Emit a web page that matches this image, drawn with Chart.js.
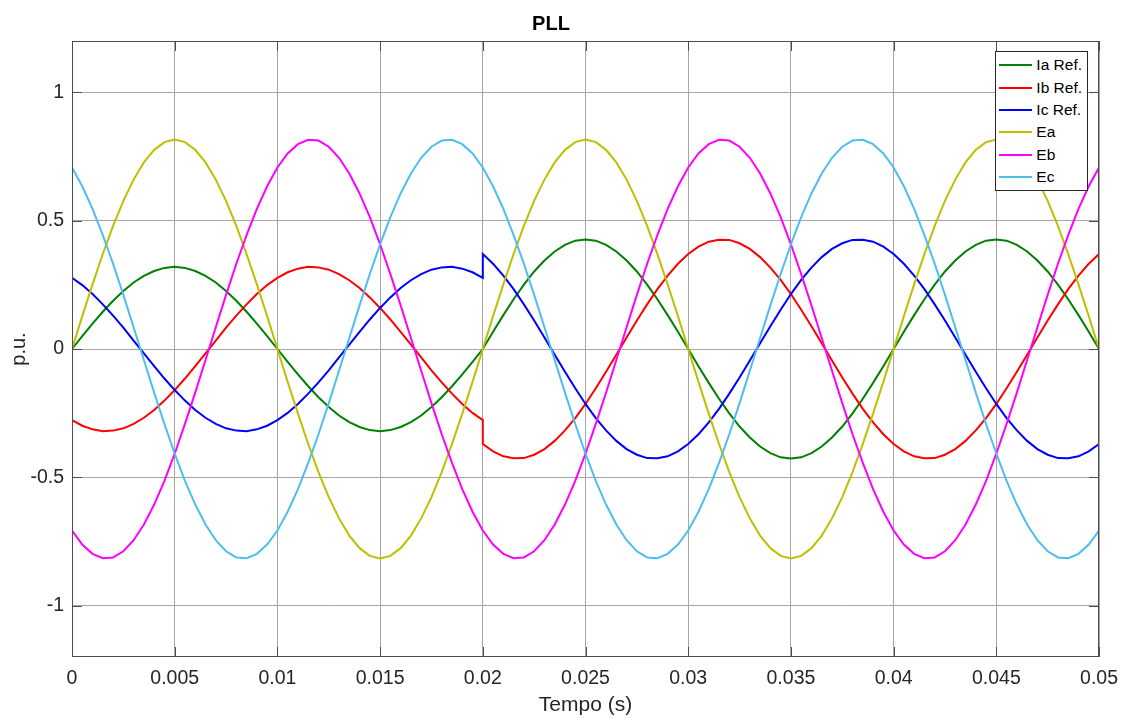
<!DOCTYPE html>
<html>
<head>
<meta charset="utf-8">
<title>PLL</title>
<script src="https://cdn.jsdelivr.net/npm/chart.js@4.4.1/dist/chart.umd.min.js"></script>
<style>
  html, body { margin: 0; padding: 0; background: #fff; }
  #wrap { position: relative; width: 1128px; height: 718px; }
  #legend {
    position: absolute;
    background: #fff;
    border: 1px solid #262626;
    padding: 2px 5px 2px 3px;
    font-family: 'Liberation Sans', Arial, Helvetica, sans-serif;
    font-size: 15.5px;
    color: #000;
    white-space: nowrap;
  }
  #legend .row { display: flex; align-items: center; height: 22.4px; }
  #legend .swatch { width: 33px; height: 0; border-top: 2.5px solid; margin-right: 4px; }
</style>
</head>
<body>
<div id="wrap">
  <canvas id="pll" width="1128" height="718"></canvas>
  <div id="legend"></div>
</div>
<script>
// sample grid: 0 .. 0.05 s, every 0.5 ms
const tempo = Array.from({ length: 101 }, (_, i) => +(i * 0.0005).toFixed(4));
const xTicks = [0, 0.005, 0.01, 0.015, 0.02, 0.025, 0.03, 0.035, 0.04, 0.045, 0.05];
const yTicks = [-1, -0.5, 0, 0.5, 1];

const seriesNames = ['Ia Ref.', 'Ib Ref.', 'Ic Ref.', 'Ea', 'Eb', 'Ec'];
const seriesColors = ['#008000', '#ff0000', '#0000ff', '#bfbf00', '#ff00ff', '#4dbeee'];

// grid voltages (p.u.)
const ea = [
  0, 0.128, 0.252, 0.370, 0.480, 0.577, 0.660, 0.727, 0.776, 0.806, 0.816, 0.806, 0.776, 0.727, 0.660, 0.577, 0.480, 0.370, 0.252, 0.128,
  0, -0.128, -0.252, -0.370, -0.480, -0.577, -0.660, -0.727, -0.776, -0.806, -0.816, -0.806, -0.776, -0.727, -0.660, -0.577, -0.480, -0.370, -0.252, -0.128,
  0, 0.128, 0.252, 0.370, 0.480, 0.577, 0.660, 0.727, 0.776, 0.806, 0.816, 0.806, 0.776, 0.727, 0.660, 0.577, 0.480, 0.370, 0.252, 0.128,
  0, -0.128, -0.252, -0.370, -0.480, -0.577, -0.660, -0.727, -0.776, -0.806, -0.816, -0.806, -0.776, -0.727, -0.660, -0.577, -0.480, -0.370, -0.252, -0.128,
  0, 0.128, 0.252, 0.370, 0.480, 0.577, 0.660, 0.727, 0.776, 0.806, 0.816, 0.806, 0.776, 0.727, 0.660, 0.577, 0.480, 0.370, 0.252, 0.128,
  0
];
const eb = [
  -0.707, -0.762, -0.798, -0.815, -0.812, -0.788, -0.745, -0.684, -0.606, -0.514, -0.408, -0.292, -0.170, -0.043, 0.085, 0.211, 0.332, 0.444, 0.546, 0.634,
  0.707, 0.762, 0.798, 0.815, 0.812, 0.788, 0.745, 0.684, 0.606, 0.514, 0.408, 0.292, 0.170, 0.043, -0.085, -0.211, -0.332, -0.444, -0.546, -0.634,
  -0.707, -0.762, -0.798, -0.815, -0.812, -0.788, -0.745, -0.684, -0.606, -0.514, -0.408, -0.292, -0.170, -0.043, 0.085, 0.211, 0.332, 0.444, 0.546, 0.634,
  0.707, 0.762, 0.798, 0.815, 0.812, 0.788, 0.745, 0.684, 0.606, 0.514, 0.408, 0.292, 0.170, 0.043, -0.085, -0.211, -0.332, -0.444, -0.546, -0.634,
  -0.707, -0.762, -0.798, -0.815, -0.812, -0.788, -0.745, -0.684, -0.606, -0.514, -0.408, -0.292, -0.170, -0.043, 0.085, 0.211, 0.332, 0.444, 0.546, 0.634,
  0.707
];
const ec = [
  0.707, 0.634, 0.546, 0.444, 0.332, 0.211, 0.085, -0.043, -0.170, -0.292, -0.408, -0.514, -0.606, -0.684, -0.745, -0.788, -0.812, -0.815, -0.798, -0.762,
  -0.707, -0.634, -0.546, -0.444, -0.332, -0.211, -0.085, 0.043, 0.170, 0.292, 0.408, 0.514, 0.606, 0.684, 0.745, 0.788, 0.812, 0.815, 0.798, 0.762,
  0.707, 0.634, 0.546, 0.444, 0.332, 0.211, 0.085, -0.043, -0.170, -0.292, -0.408, -0.514, -0.606, -0.684, -0.745, -0.788, -0.812, -0.815, -0.798, -0.762,
  -0.707, -0.634, -0.546, -0.444, -0.332, -0.211, -0.085, 0.043, 0.170, 0.292, 0.408, 0.514, 0.606, 0.684, 0.745, 0.788, 0.812, 0.815, 0.798, 0.762,
  0.707, 0.634, 0.546, 0.444, 0.332, 0.211, 0.085, -0.043, -0.170, -0.292, -0.408, -0.514, -0.606, -0.684, -0.745, -0.788, -0.812, -0.815, -0.798, -0.762,
  -0.707
];

// current references: 0 .. 0.02 s (i = 0..40), then 0.02 .. 0.05 s (i = 40..100) after the step
const iaPre = [
  0, 0.050, 0.099, 0.145, 0.188, 0.226, 0.259, 0.285, 0.304, 0.316, 0.320, 0.316, 0.304, 0.285, 0.259, 0.226, 0.188, 0.145, 0.099, 0.050,
  0, -0.050, -0.099, -0.145, -0.188, -0.226, -0.259, -0.285, -0.304, -0.316, -0.320, -0.316, -0.304, -0.285, -0.259, -0.226, -0.188, -0.145, -0.099, -0.050,
  0
];
const iaPost = [
  0, 0.067, 0.132, 0.194, 0.251, 0.302, 0.345, 0.380, 0.406, 0.422, 0.427, 0.422, 0.406, 0.380, 0.345, 0.302, 0.251, 0.194, 0.132, 0.067,
  0, -0.067, -0.132, -0.194, -0.251, -0.302, -0.345, -0.380, -0.406, -0.422, -0.427, -0.422, -0.406, -0.380, -0.345, -0.302, -0.251, -0.194, -0.132, -0.067,
  0, 0.067, 0.132, 0.194, 0.251, 0.302, 0.345, 0.380, 0.406, 0.422, 0.427, 0.422, 0.406, 0.380, 0.345, 0.302, 0.251, 0.194, 0.132, 0.067,
  0
];
const ibPre = [
  -0.277, -0.299, -0.313, -0.320, -0.318, -0.309, -0.292, -0.268, -0.238, -0.201, -0.160, -0.115, -0.067, -0.017, 0.033, 0.083, 0.130, 0.174, 0.214, 0.249,
  0.277, 0.299, 0.313, 0.320, 0.318, 0.309, 0.292, 0.268, 0.238, 0.201, 0.160, 0.115, 0.067, 0.017, -0.033, -0.083, -0.130, -0.174, -0.214, -0.249,
  -0.277
];
const ibPost = [
  -0.370, -0.399, -0.418, -0.426, -0.425, -0.412, -0.390, -0.358, -0.317, -0.269, -0.214, -0.153, -0.089, -0.022, 0.045, 0.111, 0.174, 0.233, 0.286, 0.332,
  0.370, 0.399, 0.418, 0.426, 0.425, 0.412, 0.390, 0.358, 0.317, 0.269, 0.214, 0.153, 0.089, 0.022, -0.045, -0.111, -0.174, -0.233, -0.286, -0.332,
  -0.370, -0.399, -0.418, -0.426, -0.425, -0.412, -0.390, -0.358, -0.317, -0.269, -0.214, -0.153, -0.089, -0.022, 0.045, 0.111, 0.174, 0.233, 0.286, 0.332,
  0.370
];
const icPre = [
  0.277, 0.249, 0.214, 0.174, 0.130, 0.083, 0.033, -0.017, -0.067, -0.115, -0.160, -0.201, -0.238, -0.268, -0.292, -0.309, -0.318, -0.320, -0.313, -0.299,
  -0.277, -0.249, -0.214, -0.174, -0.130, -0.083, -0.033, 0.017, 0.067, 0.115, 0.160, 0.201, 0.238, 0.268, 0.292, 0.309, 0.318, 0.320, 0.313, 0.299,
  0.277
];
const icPost = [
  0.370, 0.332, 0.286, 0.233, 0.174, 0.111, 0.045, -0.022, -0.089, -0.153, -0.214, -0.269, -0.317, -0.358, -0.390, -0.412, -0.425, -0.426, -0.418, -0.399,
  -0.370, -0.332, -0.286, -0.233, -0.174, -0.111, -0.045, 0.022, 0.089, 0.153, 0.214, 0.269, 0.317, 0.358, 0.390, 0.412, 0.425, 0.426, 0.418, 0.399,
  0.370, 0.332, 0.286, 0.233, 0.174, 0.111, 0.045, -0.022, -0.089, -0.153, -0.214, -0.269, -0.317, -0.358, -0.390, -0.412, -0.425, -0.426, -0.418, -0.399,
  -0.370
];

const STEP_IDX = 40; // sample at t = 0.02 s

function pts(vals, offset = 0) {
  return vals.map((v, i) => ({ x: tempo[i + offset], y: v }));
}
// pre and post segments share the t = 0.02 sample, so the jump is drawn vertically
function stepped(pre, post) {
  return pts(pre).concat(pts(post, STEP_IDX));
}

const seriesData = [
  stepped(iaPre, iaPost),
  stepped(ibPre, ibPost),
  stepped(icPre, icPost),
  pts(ea),
  pts(eb),
  pts(ec)
];

const FONT = "'Liberation Sans', Arial, Helvetica, sans-serif";
const INK = '#262626';

// axes box and inward tick marks
const frameBox = {
  id: 'frameBox',
  afterDatasetsDraw(chart) {
    const { ctx, chartArea: a, scales: { x, y } } = chart;
    const L = 10;
    ctx.save();
    ctx.strokeStyle = '#4d4d4d';
    ctx.lineWidth = 1;
    ctx.beginPath();
    xTicks.forEach(v => {
      const px = Math.round(x.getPixelForValue(v)) + 0.5;
      ctx.moveTo(px, a.bottom); ctx.lineTo(px, a.bottom - L);
      ctx.moveTo(px, a.top); ctx.lineTo(px, a.top + L);
    });
    yTicks.forEach(v => {
      const py = Math.round(y.getPixelForValue(v)) + 0.5;
      ctx.moveTo(a.left, py); ctx.lineTo(a.left + L, py);
      ctx.moveTo(a.right, py); ctx.lineTo(a.right - L, py);
    });
    ctx.stroke();
    ctx.strokeRect(Math.round(a.left) + 0.5, Math.round(a.top) + 0.5,
                   Math.round(a.width) - 1, Math.round(a.height) - 1);
    ctx.restore();
  },
  afterRender(chart) {
    // legend sits in the top-right corner of the plot area
    const a = chart.chartArea;
    const leg = document.getElementById('legend');
    leg.style.right = (chart.width - a.right + 11) + 'px';
    leg.style.top = (a.top + 10) + 'px';
  }
};

const ctx = document.getElementById('pll').getContext('2d');
const chart = new Chart(ctx, {
  type: 'line',
  data: {
    datasets: seriesNames.map((name, k) => ({
      label: name,
      data: seriesData[k],
      borderColor: seriesColors[k],
      backgroundColor: seriesColors[k],
      borderWidth: 2,
      pointRadius: 0,
      tension: 0,
      fill: false,
      order: seriesNames.length - k
    }))
  },
  options: {
    responsive: false,
    animation: false,
    events: [],
    layout: { padding: { left: 0, right: 26, top: 0, bottom: 0 } },
    plugins: {
      legend: { display: false },
      tooltip: { enabled: false },
      title: {
        display: true,
        text: 'PLL',
        color: '#000',
        font: { family: FONT, size: 20, weight: 'bold' },
        padding: { top: 12, bottom: 5 }
      }
    },
    scales: {
      x: {
        type: 'linear',
        min: 0,
        max: 0.05,
        afterBuildTicks: s => { s.ticks = xTicks.map(v => ({ value: v })); },
        afterFit: s => { s.height = 61; },
        grid: { color: '#a6a6a6', drawTicks: false },
        border: { display: false },
        ticks: {
          autoSkip: false,
          maxRotation: 0,
          padding: 10,
          color: INK,
          font: { family: FONT, size: 19.5 },
          callback: v => String(v)
        },
        title: {
          display: true,
          text: 'Tempo (s)',
          color: INK,
          font: { family: FONT, size: 21 },
          padding: { top: 0, bottom: 0 }
        }
      },
      y: {
        min: -1.2,
        max: 1.2,
        afterBuildTicks: s => { s.ticks = yTicks.map(v => ({ value: v })); },
        afterFit: s => { s.width = 72; },
        grid: { color: '#a6a6a6', drawTicks: false },
        border: { display: false },
        ticks: {
          padding: 8,
          color: INK,
          font: { family: FONT, size: 19.5 },
          callback: v => String(v)
        },
        title: {
          display: true,
          text: 'p.u.',
          color: INK,
          font: { family: FONT, size: 20 },
          padding: { top: 7, bottom: 0 }
        }
      }
    }
  },
  plugins: [frameBox]
});

// legend built from the same names and colours as the datasets
const legendEl = document.getElementById('legend');
seriesNames.forEach((name, k) => {
  const row = document.createElement('div');
  row.className = 'row';
  const sw = document.createElement('span');
  sw.className = 'swatch';
  sw.style.borderTopColor = seriesColors[k];
  const label = document.createElement('span');
  label.textContent = name;
  row.appendChild(sw);
  row.appendChild(label);
  legendEl.appendChild(row);
});
chart.render();
</script>
</body>
</html>
